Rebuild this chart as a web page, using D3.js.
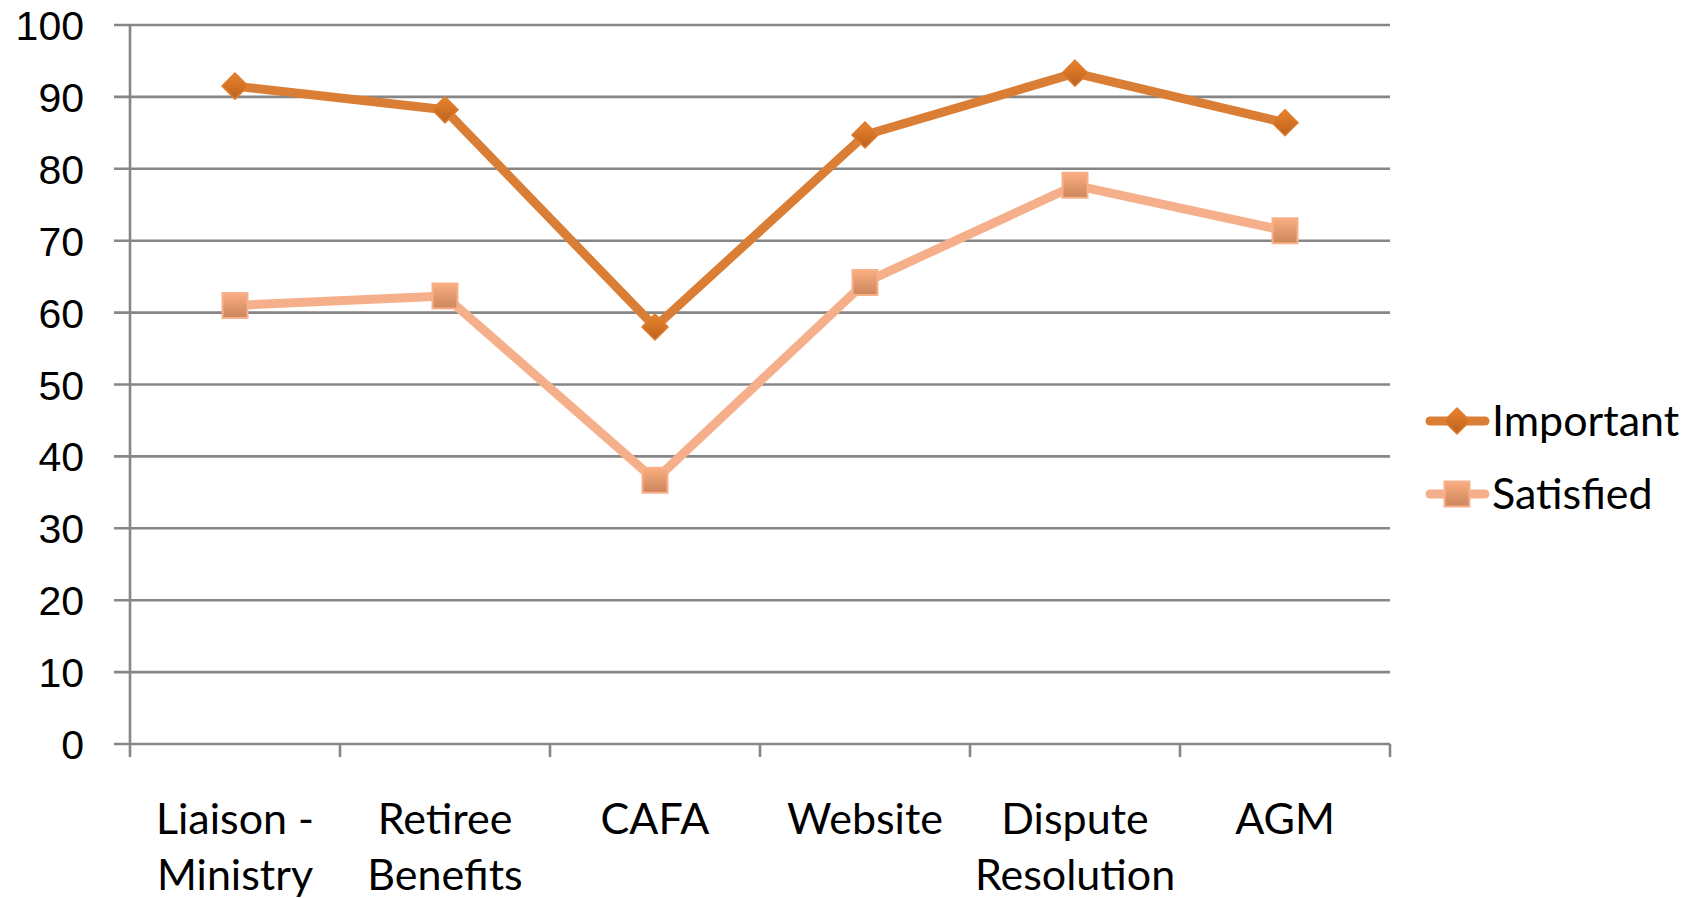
<!DOCTYPE html>
<html><head><meta charset="utf-8">
<script src="https://cdn.jsdelivr.net/npm/d3@7"></script>
<style>
html,body{margin:0;padding:0;background:#fff;}
svg{display:block;}
text{font-family:Lato,"Liberation Sans",sans-serif;fill:#000;}
</style></head>
<body>
<svg id="chart" width="1702" height="899"></svg>
<script>
const categories = ["Liaison - Ministry", "Retiree Benefits", "CAFA", "Website", "Dispute Resolution", "AGM"];
const categoryLines = [["Liaison -", "Ministry"], ["Retiree", "Benefits"], ["CAFA"], ["Website"], ["Dispute", "Resolution"], ["AGM"]];
const important = [91.5, 88.2, 58.0, 84.7, 93.3, 86.4];
const satisfied = [61.0, 62.3, 36.7, 64.2, 77.7, 71.4];
const yTicks = [0, 10, 20, 30, 40, 50, 60, 70, 80, 90, 100];
const seriesNames = ["Important", "Satisfied"];

(function () {
const svg = d3.select("#chart");
const pL = 130, pR = 1390, pT = 25, pB = 744;
const x = d3.scaleBand().domain(categories).range([pL, pR]).paddingInner(0).paddingOuter(0);
const y = d3.scaleLinear().domain([0, 100]).range([pB, pT]);
const cx = c => x(c) + x.bandwidth() / 2;

const defs = svg.append("defs");
const gd = defs.append("linearGradient").attr("id", "gDia").attr("x1", 0).attr("y1", 0).attr("x2", 0).attr("y2", 1);
gd.append("stop").attr("offset", "0%").attr("stop-color", "#E9842C");
gd.append("stop").attr("offset", "100%").attr("stop-color", "#BC611D");
const gs = defs.append("linearGradient").attr("id", "gSq").attr("x1", 0).attr("y1", 0).attr("x2", 0).attr("y2", 1);
gs.append("stop").attr("offset", "0%").attr("stop-color", "#FBAE80");
gs.append("stop").attr("offset", "100%").attr("stop-color", "#CC855C");

const gridColor = "#868686";
svg.append("g").selectAll("line").data(yTicks).join("line")
  .attr("x1", pL - 16).attr("x2", pR)
  .attr("y1", d => y(d)).attr("y2", d => y(d))
  .attr("stroke", gridColor).attr("stroke-width", 2.6);
svg.append("line").attr("x1", pL).attr("x2", pL).attr("y1", pT).attr("y2", pB + 13)
  .attr("stroke", gridColor).attr("stroke-width", 2.6);
const xEdges = categories.map(c => x(c)).concat([pR]);
svg.append("g").selectAll("line").data(xEdges.slice(1)).join("line")
  .attr("x1", d => d).attr("x2", d => d).attr("y1", pB).attr("y2", pB + 13)
  .attr("stroke", gridColor).attr("stroke-width", 2.6);
svg.append("g").selectAll("text").data(yTicks).join("text")
  .attr("x", 84).attr("y", d => y(d) + 15)
  .style("font-family", "'Liberation Sans', Arial, sans-serif")
  .attr("text-anchor", "end").attr("font-size", 41).text(d => d);
const xl = svg.append("g").selectAll("text").data(categories).join("text")
  .attr("text-anchor", "middle").attr("font-size", 43)
  .attr("transform", c => `translate(${cx(c)},0)`);
xl.each(function(c, i) {
  categoryLines[i].forEach((ln, j) => {
    d3.select(this).append("tspan").attr("x", 0).attr("y", 834 + j * 56).text(ln);
  });
});

const line = d3.line().x((d, i) => cx(categories[i])).y(d => y(d));
const colImp = "#DA7E36", colSat = "#F5B08B";
svg.append("path").datum(satisfied).attr("d", line).attr("fill", "none")
  .attr("stroke", colSat).attr("stroke-width", 9).attr("stroke-linejoin", "round").attr("stroke-linecap", "round");
svg.append("path").datum(important).attr("d", line).attr("fill", "none")
  .attr("stroke", colImp).attr("stroke-width", 9).attr("stroke-linejoin", "round").attr("stroke-linecap", "round");

const diamond = "M0,-13L13,0L0,13L-13,0Z";
const square = "M-12.5,-12.5H12.5V12.5H-12.5Z";
function diamonds(sel) {
  sel.attr("d", diamond).attr("fill", "url(#gDia)").attr("stroke", "#DE7D30").attr("stroke-width", 1.5);
}
function squares(sel) {
  sel.attr("d", square).attr("fill", "url(#gSq)").attr("stroke", "#F7B08A").attr("stroke-width", 2);
}
svg.append("g").selectAll("path").data(important).join("path")
  .attr("transform", (d, i) => `translate(${cx(categories[i])},${y(d)})`).call(diamonds);
svg.append("g").selectAll("path").data(satisfied).join("path")
  .attr("transform", (d, i) => `translate(${cx(categories[i])},${y(d)})`).call(squares);

const legY = [421, 494];
const leg = svg.append("g");
seriesNames.forEach((name, i) => {
  const col = i === 0 ? colImp : colSat;
  leg.append("line").attr("x1", 1430).attr("x2", 1485).attr("y1", legY[i]).attr("y2", legY[i])
    .attr("stroke", col).attr("stroke-width", 9).attr("stroke-linecap", "round");
  const m = leg.append("path").attr("transform", `translate(1457,${legY[i]})`);
  if (i === 0) m.call(diamonds); else m.call(squares);
  leg.append("text").attr("x", 1492).attr("y", legY[i] + 15).attr("font-size", 43).text(name);
});
})();
</script>
</body></html>
